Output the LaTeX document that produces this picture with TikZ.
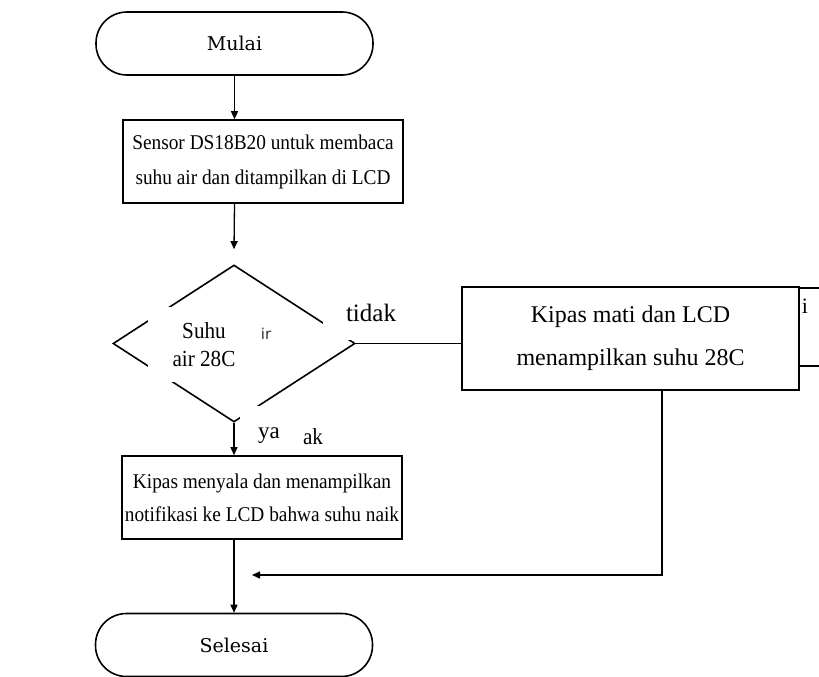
\documentclass[tikz,border=0pt]{standalone}
\usepackage{fontspec}
\setmainfont{Liberation Serif}
\newfontfamily\termfont{DejaVu Serif}
\newfontfamily\fragfont{DejaVu Sans}
\newfontfamily\condfont[FakeStretch=0.92]{Liberation Serif}
\newfontfamily\semifont[FakeStretch=0.92]{Liberation Serif}
\usetikzlibrary{shapes.geometric,arrows.meta}
\begin{document}
\begin{tikzpicture}[x=1pt,y=-1pt,
  shape line/.style={draw, line width=1.6pt},
  term/.style={shape line, rectangle, rounded corners=31pt, minimum width=277pt, minimum height=63pt, inner sep=0pt, font=\termfont\fontsize{19}{21}\selectfont},
  proc/.style={shape line, rectangle, inner sep=0pt, align=center},
  arr/.style={-{Triangle[length=8pt,width=7pt]}, line width=1.3pt},
  conn/.style={line width=1.3pt},
  patch/.style={fill=white, draw=none, inner sep=0pt},
  lbl/.style={inner sep=0pt, font=\fontsize{23}{26}\selectfont},
]
\useasboundingbox (0,0) rectangle (819,677);

% nodes
\node[term] (mulai) at (234.5,43.5) {Mulai};
\node[proc, minimum width=280pt, minimum height=83pt, font=\condfont\fontsize{21}{35}\selectfont] (sensor) at (263,161.5)
  {Sensor DS18B20 untuk membaca\\suhu air dan ditampilkan di LCD};
\node[shape line, diamond, minimum width=242pt, minimum height=157pt, inner sep=0pt] (dec) at (234,343.5) {};

% white patches over the diamond
\node[patch, minimum width=142pt, minimum height=75pt] (p1) at (219,344.5) {};
\node[patch, minimum width=77pt, minimum height=45pt] (p2) at (361.5,317.5) {};
\node[patch, minimum width=95pt, minimum height=46pt] (p3) at (287.5,429) {};

\node[inner sep=0pt, align=center, font=\semifont\fontsize{23}{28}\selectfont] (suhu) at (204,345) {Suhu\\air 28C};
\node[inner sep=0pt, text=black!80, font=\fragfont\fontsize{15}{17}\selectfont] (ir) at (266,334) {ir};
\node[lbl, font=\fontsize{25}{28}\selectfont] (tidak) at (371,313) {tidak};
\node[lbl] (ya) at (269,436) {ya};
\node[lbl, font=\semifont\fontsize{23}{26}\selectfont] (ak) at (313,437) {ak};

\node[proc, minimum width=337pt, minimum height=103pt, font=\fontsize{24}{43}\selectfont] (mati) at (630.5,338.5)
  {Kipas mati dan LCD\\menampilkan suhu 28C};
\node[inner sep=0pt, font=\fontsize{22}{24}\selectfont] (ifrag) at (805,306) {i};

\node[proc, minimum width=280pt, minimum height=83pt, font=\condfont\fontsize{21}{33}\selectfont] (menyala) at (262,497.5)
  {Kipas menyala dan menampilkan\\notifikasi ke LCD bahwa suhu naik};
\node[term] (selesai) at (234,645) {Selesai};

% stray box edges at the right
\coordinate (s1) at (819,288);
\coordinate (s2) at (819,366);
\draw[line width=1.6pt] (mati.east |- s1) -- (s1);
\draw[line width=1.6pt] (mati.east |- s2) -- (s2);

% connectors
\draw[arr] (mulai.south) -- (mulai.south |- sensor.north);
\draw[arr] (mulai.south |- sensor.south) -- ([yshift=15pt]dec.north);
\draw[conn] (dec.east) -- (mati.west |- dec.east);
\draw[arr] (dec.south) -- (dec.south |- menyala.north);
\draw[arr] (dec.south |- menyala.south) -- (selesai.north);
\coordinate (retx) at (662,575);
\coordinate (ret) at (252,575);
\draw[arr] (mati.south -| retx) -- (retx) -- (ret);
\end{tikzpicture}
\end{document}
